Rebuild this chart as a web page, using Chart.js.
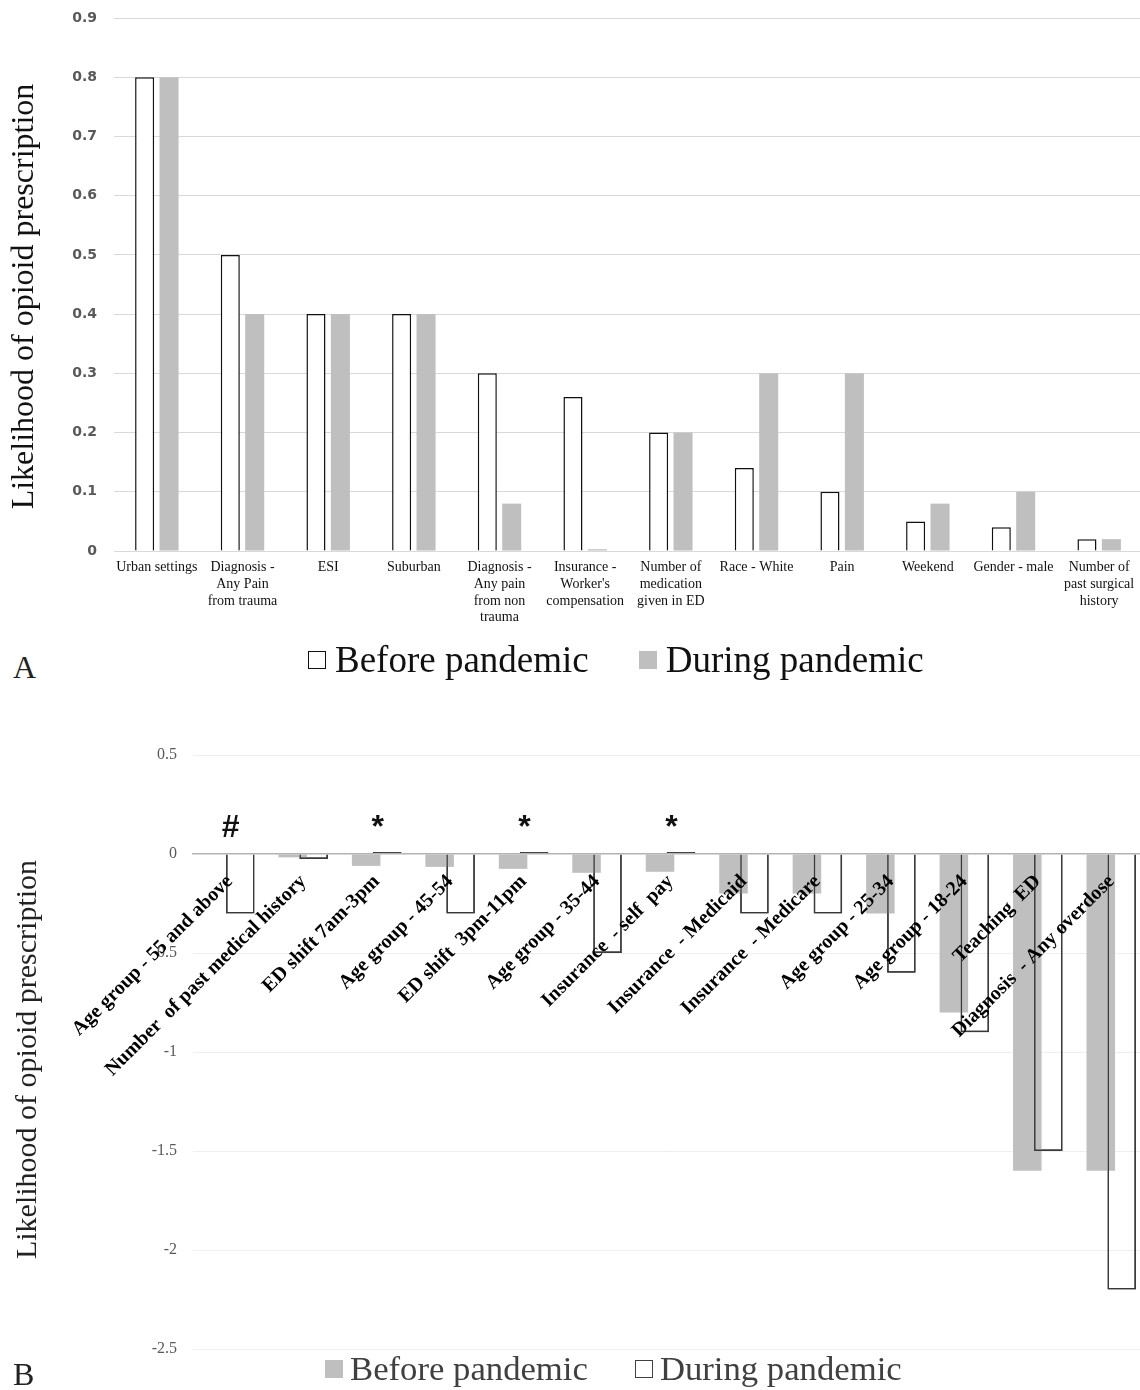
<!DOCTYPE html>
<html>
<head>
<meta charset="utf-8">
<script src="https://cdn.jsdelivr.net/npm/chart.js@4.4.1/dist/chart.umd.min.js"></script>
<style>
  html, body { margin: 0; padding: 0; background: #fff; }
  body { width: 1140px; height: 1390px; overflow: hidden; position: relative; font-family: "Liberation Serif", serif; }
  .panel { position: absolute; left: 0; width: 1150px; }
  #panelA { top: 0; height: 640px; }
  #panelB { top: 740px; height: 622px; }
  .legend { position: absolute; display: flex; align-items: center; white-space: nowrap; }
  .swatch { display: inline-block; width: 18px; height: 18px; box-sizing: border-box; margin-right: 9px; }
  .letter { position: absolute; left: 13px; font-size: 32px; line-height: 32px; color: #222; }
</style>
</head>
<body>
<div class="panel" id="panelA"><canvas id="chartA"></canvas></div>
<div class="panel" id="panelB"><canvas id="chartB"></canvas></div>

<div class="legend" style="top:641px;left:308px;font-size:37px;line-height:37px;color:#111;">
  <span class="swatch" style="background:#fff;border:1px solid #111;"></span><span>Before pandemic</span>
  <span class="swatch" style="background:#bfbfbf;margin-left:50px;"></span><span>During pandemic</span>
</div>
<div class="letter" style="top:651px;">A</div>

<div class="legend" style="top:1351px;left:325px;font-size:34.7px;line-height:35px;color:#404040;">
  <span class="swatch" style="background:#bfbfbf;margin-right:7px;"></span><span>Before pandemic</span>
  <span class="swatch" style="background:#fff;border:1px solid #404040;margin-left:47px;margin-right:7px;"></span><span>During pandemic</span>
</div>
<div class="letter" style="top:1358px;">B</div>

<script>
// Panel A
const labelsA = [
  ["Urban settings"],
  ["Diagnosis -", "Any Pain", "from trauma"],
  ["ESI"],
  ["Suburban"],
  ["Diagnosis -", "Any pain", "from non", "trauma"],
  ["Insurance -", "Worker's", "compensation"],
  ["Number of", "medication", "given in ED"],
  ["Race - White"],
  ["Pain"],
  ["Weekend"],
  ["Gender - male"],
  ["Number of", "past surgical", "history"],
];
const beforeA = [0.8, 0.5, 0.4, 0.4, 0.3, 0.26, 0.2, 0.14, 0.1, 0.05, 0.04, 0.02];
const duringA = [0.8, 0.4, 0.4, 0.4, 0.08, 0.003, 0.2, 0.3, 0.3, 0.08, 0.1, 0.02];
const yTicksA = [0, 0.1, 0.2, 0.3, 0.4, 0.5, 0.6, 0.7, 0.8, 0.9];

// Panel B
const labelsB = [
  "Age group - 55 and above",
  "Number  of past medical history",
  "ED shift 7am-3pm",
  "Age group - 45-54",
  "ED shift  3pm-11pm",
  "Age group - 35-44",
  "Insurance  - self  pay",
  "Insurance  - Medicaid",
  "Insurance  - Medicare",
  "Age group - 25-34",
  "Age group - 18-24",
  "Teaching  ED",
  "Diagnosis  - Any overdose",
];
const beforeB = [0.004, -0.017, -0.06, -0.065, -0.075, -0.095, -0.09, -0.2, -0.2, -0.3, -0.8, -1.6, -1.6];
const duringB = [-0.3, -0.025, 0.01, -0.3, 0.01, -0.5, 0.01, -0.3, -0.3, -0.6, -0.9, -1.5, -2.2];
const marksB = ["#", "", "*", "", "*", "", "*", "", "", "", "", "", ""];
const yTicksB = [-2.5, -2, -1.5, -1, -0.5, 0, 0.5];

const serif = "Liberation Serif";
const axisTitle = "Likelihood of opioid prescription";

const chartA = new Chart(document.getElementById("chartA"), {
  type: "bar",
  data: {
    labels: labelsA,
    datasets: [
      {
        label: "Before pandemic",
        data: beforeA,
        backgroundColor: "#ffffff",
        borderColor: "#111111",
        borderWidth: 1.5,
        categoryPercentage: 0.57,
        barPercentage: 0.78,
      },
      {
        label: "During pandemic",
        data: duringA,
        backgroundColor: "#bfbfbf",
        borderWidth: 0,
        categoryPercentage: 0.57,
        barPercentage: 0.78,
      },
    ],
  },
  options: {
    responsive: true,
    maintainAspectRatio: false,
    animation: false,
    layout: { padding: { top: 18, right: 8, bottom: 0, left: 0 } },
    plugins: { legend: { display: false }, tooltip: { enabled: false } },
    scales: {
      x: {
        grid: { display: false, drawTicks: false },
        border: { color: "#d9d9d9" },
        ticks: {
          autoSkip: false,
          maxRotation: 0,
          padding: 8,
          color: "#111",
          font: { family: serif, size: 14, lineHeight: 1.2 },
        },
        afterFit: (s) => { s.height = 89; },
      },
      y: {
        min: 0,
        max: 0.9,
        afterBuildTicks: (s) => { s.ticks = yTicksA.map((v) => ({ value: v })); },
        // invisible tick marks give the label gap without padding the top
        grid: { color: "#d9d9d9", drawTicks: true, tickLength: 14, tickColor: "rgba(0,0,0,0)" },
        border: { display: false },
        ticks: {
          padding: 3,
          color: "#595959",
          font: { family: "DejaVu Sans", weight: "bold", size: 14 },
          callback: (v) => String(v),
        },
        title: {
          display: true,
          // trailing spaces nudge the rotated title down a little
          text: axisTitle + "\u00a0\u00a0\u00a0",
          color: "#111",
          font: { family: serif, size: 32, lineHeight: 1.2 },
          padding: { top: 5, bottom: 0 },
        },
        afterFit: (s) => { s.width = 114; },
      },
    },
  },
});

// redraw the outlined series so its border sits over the grey bars
const outlineOnTop = {
  id: "outlineOnTop",
  afterDatasetsDraw(chart) {
    const meta = chart.getDatasetMeta(1);
    meta.data.forEach((bar) => bar.draw(chart.ctx));
  },
};

const significance = {
  id: "significance",
  afterDatasetsDraw(chart) {
    const { ctx, scales } = chart;
    ctx.save();
    ctx.font = "bold 32px 'Liberation Sans'";
    ctx.fillStyle = "#111";
    ctx.textAlign = "center";
    ctx.textBaseline = "alphabetic";
    marksB.forEach((m, i) => {
      if (m) ctx.fillText(m, scales.x.getPixelForValue(i) + 1, scales.y.getPixelForValue(0) - 17);
    });
    ctx.restore();
  },
};

const chartB = new Chart(document.getElementById("chartB"), {
  type: "bar",
  data: {
    labels: labelsB,
    datasets: [
      {
        label: "Before pandemic",
        data: beforeB,
        backgroundColor: "#bfbfbf",
        borderWidth: 0,
        categoryPercentage: 0.571,
        barPercentage: 1.36,
      },
      {
        label: "During pandemic",
        data: duringB,
        backgroundColor: "rgba(255,255,255,0)",
        borderColor: "#3a3a3a",
        borderWidth: 1.5,
        categoryPercentage: 0.571,
        barPercentage: 1.36,
      },
    ],
  },
  options: {
    responsive: true,
    maintainAspectRatio: false,
    animation: false,
    layout: { padding: { top: 15, right: 2, bottom: 13, left: 0 } },
    plugins: { legend: { display: false }, tooltip: { enabled: false } },
    scales: {
      x: {
        position: { y: 0 },
        grid: { display: false, drawTicks: false },
        border: { color: "#b3b3b3", width: 1.5, z: 1 },
        ticks: {
          z: 1,
          autoSkip: false,
          minRotation: 45,
          maxRotation: 45,
          padding: 16,
          color: "#000",
          font: { family: serif, weight: "bold", size: 20 },
        },
      },
      y: {
        min: -2.5,
        max: 0.5,
        afterBuildTicks: (s) => { s.ticks = yTicksB.map((v) => ({ value: v })); },
        grid: { color: "#efefef", drawTicks: true, tickLength: 13, tickColor: "rgba(0,0,0,0)" },
        border: { display: false },
        ticks: {
          padding: 3,
          color: "#595959",
          font: { family: serif, size: 16 },
          callback: (v) => String(v),
        },
        title: {
          display: true,
          text: axisTitle + "\u00a0\u00a0",
          color: "#222",
          font: { family: serif, size: 30, lineHeight: 1.2 },
          padding: { top: 10, bottom: 0 },
        },
        afterFit: (s) => { s.width = 193; },
      },
    },
  },
  plugins: [outlineOnTop, significance],
});
</script>
</body>
</html>
